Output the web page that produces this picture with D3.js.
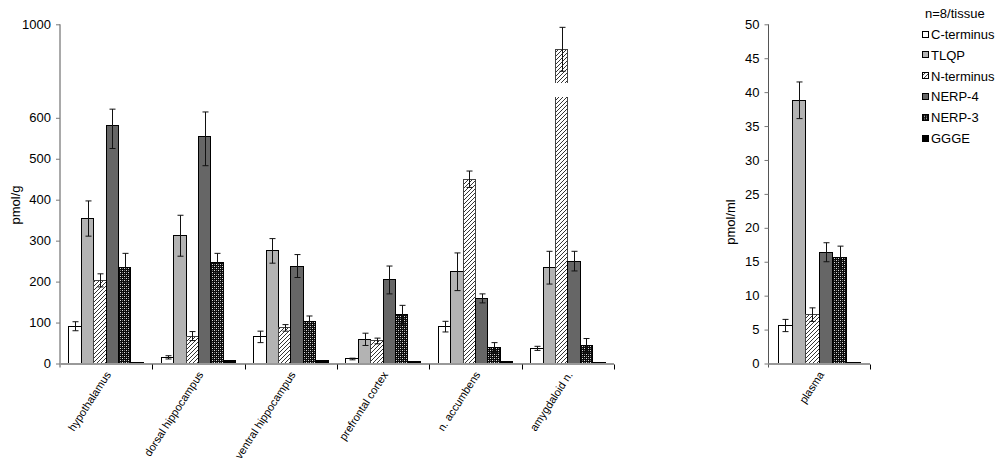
<!DOCTYPE html>
<html><head><meta charset="utf-8">
<script src="https://cdn.jsdelivr.net/npm/d3@7"></script>
<style>
html,body{margin:0;padding:0;background:#fff;}
svg{display:block;font-family:Arial,"Liberation Sans",sans-serif;}
</style></head>
<body>
<svg id="chart" width="1000" height="461"></svg>
<script>
// ---- data ----
const categories = ["hypothalamus","dorsal hippocampus","ventral hippocampus","prefrontal cortex","n. accumbens","amygdaloid n."];
const seriesNames = ["C-terminus","TLQP","N-terminus","NERP-4","NERP-3","GGGE"];
const cTerminus    = [91, 15, 65, 11, 90, 37];
const cTerminusErr = [11, 4, 14, 2, 13, 5];
const tlqp         = [354, 312, 275, 59, 224, 234];
const tlqpErr      = [43, 50, 30, 15, 46, 40];
const nTerminus    = [203, 67, 87, 55, 450, 893];
const nTerminusErr = [16, 11, 8, 7, 20, 94];
const nerp4        = [581, 554, 238, 204, 159, 250];
const nerp4Err     = [56, 71, 28, 34, 11, 24];
const nerp3        = [234, 246, 102, 119, 39, 44];
const nerp3Err     = [35, 23, 14, 23, 12, 17];
const ggge         = [3, 7, 7, 5, 6, 3];
const gggeErr      = [0, 0, 0, 0, 0, 0];
const plasmaCategories = ["plasma"];
const plasmaValues = [5.6, 38.8, 7.2, 16.4, 15.6, 0.2];
const plasmaErr    = [0.9, 2.7, 1.0, 1.4, 1.7, 0];
const leftTicks  = [0, 100, 200, 300, 400, 500, 600, 1000];
const rightTicks = [0, 5, 10, 15, 20, 25, 30, 35, 40, 45, 50];
const axisBreak = {category: "amygdaloid n.", series: "N-terminus", from: 689, to: 749};
const legendTitle = "n=8/tissue";
const leftTitle = "pmol/g", rightTitle = "pmol/ml";

const tissueValues = [cTerminus, tlqp, nTerminus, nerp4, nerp3, ggge];
const tissueErrors = [cTerminusErr, tlqpErr, nTerminusErr, nerp4Err, nerp3Err, gggeErr];

// ---- styles ----
const fills = ["#ffffff", "#b3b3b3", "url(#hatch)", "#666666", "url(#checker)", "#000000"];
const FONT = 13;

const svg = d3.select("#chart");
const defs = svg.append("defs");
const hatch = defs.append("pattern").attr("id","hatch").attr("patternUnits","userSpaceOnUse")
  .attr("width",4).attr("height",4);
hatch.append("rect").attr("width",4).attr("height",4).attr("fill","#fff");
hatch.append("path").attr("d","M-1,1 l2,-2 M0,4 l4,-4 M3,5 l2,-2").attr("stroke","#333").attr("stroke-width",1);
const chk = defs.append("pattern").attr("id","checker").attr("patternUnits","userSpaceOnUse")
  .attr("width",4).attr("height",4);
chk.append("rect").attr("width",4).attr("height",4).attr("fill","#0a0a0a");
chk.append("rect").attr("x",0).attr("y",0).attr("width",1).attr("height",1).attr("fill","#ddd");
chk.append("rect").attr("x",2).attr("y",2).attr("width",1).attr("height",1).attr("fill","#ddd");
chk.append("rect").attr("x",2).attr("y",0).attr("width",1).attr("height",1).attr("fill","#777");
chk.append("rect").attr("x",0).attr("y",2).attr("width",1).attr("height",1).attr("fill","#777");

// ---- scales ----
const y0 = 363.5;
const yL = d3.scaleLinear().domain([0, 600, 1000]).range([y0, 117.8, 24.3]);
const xL = d3.scaleBand().domain(categories).range([60, 614]).padding(0);
const sL = d3.scaleBand().domain(seriesNames).range([0, xL.bandwidth()]).paddingInner(0).paddingOuter(0.725);

const yR = d3.scaleLinear().domain([0, 50]).range([y0, 24.3]);
const xR = d3.scaleBand().domain(plasmaCategories).range([768.5, 870]).padding(0);
const sR = d3.scaleBand().domain(seriesNames).range([0, xR.bandwidth()]).paddingInner(0).paddingOuter(0.725);

function drawPanel(g, xs, ss, ys, cats, valueOf, errOf, ticks, title, titleX, titleY) {
  // y axis
  const ax = g.append("g").attr("transform", `translate(${xs.range()[0]},0)`)
    .call(d3.axisLeft(ys).tickValues(ticks).tickSize(4).tickPadding(5).tickFormat(d3.format("d")));
  ax.select(".domain").attr("stroke","#555").attr("d", `M0,${ys.range()[ys.range().length-1]}V${y0+4}`);
  ax.selectAll(".tick line").attr("stroke","#777");
  ax.selectAll(".tick text").attr("font-size",FONT).attr("font-family","Arial,'Liberation Sans',sans-serif").attr("fill","#000");

  // bars
  cats.forEach((c, ci) => {
    seriesNames.forEach((s, si) => {
      const v = valueOf(ci, si), e = errOf(ci, si);
      const x = xs(c) + ss(s), w = ss.bandwidth();
      g.append("rect").attr("x", x).attr("y", ys(v)).attr("width", w).attr("height", ys(0) - ys(v))
        .attr("fill", fills[si]).attr("stroke", si === 2 ? "#444" : "#000").attr("stroke-width", 1)
        .attr("shape-rendering","crispEdges");
      if (c === axisBreak.category && s === axisBreak.series) {
        g.append("rect").attr("x", x - 2).attr("y", ys(axisBreak.to)).attr("width", w + 4)
          .attr("height", ys(axisBreak.from) - ys(axisBreak.to)).attr("fill","#fff");
      }
      if (e > 0) {
        const cx = Math.round(x + w / 2) + 0.5;
        const eg = g.append("g").attr("stroke","#111").attr("stroke-width",1).attr("fill","none");
        eg.append("line").attr("x1",cx).attr("x2",cx).attr("y1",ys(v + e)).attr("y2",ys(v - e));
        eg.append("line").attr("x1",cx-3).attr("x2",cx+3).attr("y1",ys(v + e)).attr("y2",ys(v + e));
        eg.append("line").attr("x1",cx-3).attr("x2",cx+3).attr("y1",ys(v - e)).attr("y2",ys(v - e));
      }
    });
  });

  // x axis
  const r = xs.range();
  g.append("line").attr("x1", r[0]).attr("x2", r[1]).attr("y1", y0 + 0.5).attr("y2", y0 + 0.5)
    .attr("stroke","#999").attr("stroke-width",2);
  const bounds = cats.map(c => xs(c) + xs.bandwidth());
  g.selectAll(".ctick").data(bounds).join("line").attr("class","ctick")
    .attr("x1", d => Math.round(d) + 0.5).attr("x2", d => Math.round(d) + 0.5)
    .attr("y1", y0 + 1).attr("y2", y0 + 6).attr("stroke","#000");
  g.selectAll(".clabel").data(cats).join("text").attr("class","clabel")
    .attr("transform", c => `translate(${xs(c) + xs.bandwidth()/2 + 2},${y0 + 9}) rotate(-57)`)
    .attr("text-anchor","end").attr("dy","0.35em").attr("font-size",11).text(c => c);

  g.append("text").attr("transform", `translate(${titleX},${titleY}) rotate(-90)`)
    .attr("text-anchor","middle").attr("dy","0.35em").attr("font-size",FONT).text(title);
}

drawPanel(svg.append("g"), xL, sL, yL, categories,
  (ci, si) => tissueValues[si][ci], (ci, si) => tissueErrors[si][ci], leftTicks, leftTitle, 15, 205);
drawPanel(svg.append("g"), xR, sR, yR, plasmaCategories,
  (ci, si) => plasmaValues[si], (ci, si) => plasmaErr[si], rightTicks, rightTitle, 730, 222);

// legend
const lg = svg.append("g");
lg.append("text").attr("x", 925).attr("y", 13).attr("dy","0.35em").attr("font-size",FONT).text(legendTitle);
const li = lg.selectAll(".li").data(seriesNames).join("g").attr("class","li")
  .attr("transform", (d, i) => `translate(922,${34.5 + i * 20.8})`);
li.append("rect").attr("x",0.5).attr("y",-3.5).attr("width",6).attr("height",6)
  .attr("fill", (d, i) => fills[i]).attr("stroke","#000").attr("stroke-width",1).attr("shape-rendering","crispEdges");
li.append("text").attr("x", 9).attr("dy","0.35em").attr("font-size",FONT).text(d => d);
</script>
</body></html>
